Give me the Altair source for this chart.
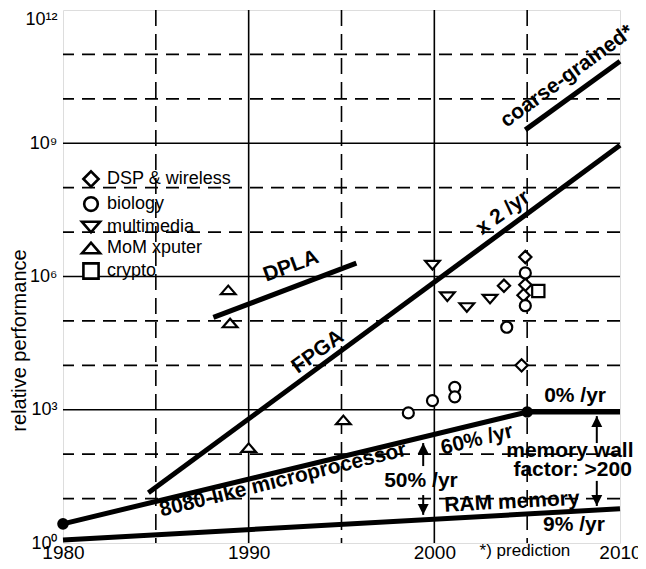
import altair as alt
import pandas as pd

# ---------------- data ----------------
# grid positions
grid_solid_years = [1990, 2000]
grid_dash_years = [1985, 1995, 2005]
grid_solid_vals = [1e3, 1e6, 1e9]
grid_dash_vals = [1e1, 1e2, 1e4, 1e5, 1e7, 1e8, 1e10, 1e11]

x_ticks = [1980, 1990, 2000, 2010]
y_ticks = [1, 1e3, 1e6, 1e9, 1e12]
y_tick_exps = [0, 3, 6, 9, 12]
y_tick_labels = ["10\u2070", "10\u00b3", "10\u2076", "10\u2079", "10\u00b9\u00b2"]

# trend lines
fpga_years = [1984.6, 2010]
fpga_vals = [13.5, 9.0e8]
coarse_years = [2004.9, 2010]
coarse_vals = [2.0e9, 7.0e10]
dpla_years = [1988.1, 1995.8]
dpla_vals = [1.2e5, 2.0e6]
micro_years = [1980, 2005, 2010]
micro_vals = [2.7, 890, 890]
ram_years = [1980, 2010]
ram_vals = [1.17, 5.9]

dot_years = [1980, 2005]
dot_vals = [2.7, 890]

# scatter categories
categories = ["DSP & wireless", "biology", "multimedia", "MoM xputer", "crypto"]
dsp_years = [2004.9, 2003.75, 2004.9, 2004.8, 2004.7]
dsp_vals = [2.75e6, 6.2e5, 6.5e5, 3.8e5, 1.0e4]
bio_years = [2004.9, 2004.9, 2003.9, 1999.9, 2001.1, 2001.1, 1998.6]
bio_vals = [1.2e6, 2.2e5, 7.2e4, 1600, 3200, 1950, 850]
mm_years = [1999.9, 2000.7, 2001.75, 2003.0]
mm_vals = [1.8e6, 3.5e5, 2.0e5, 3.1e5]
mom_years = [1988.9, 1989.0, 1990.0, 1995.1]
mom_vals = [5.0e5, 9.0e4, 140, 590]
crypto_years = [2005.6]
crypto_vals = [4.7e5]

# arrows (shaft start -> tip)
arrow_years = [1999.4, 1999.4, 2008.75, 2008.75]
arrow_from = [54, 12, 178, 25]
arrow_to = [178, 4.3, 720, 6.8]
arrow_dirs = ["up", "down", "up", "down"]

# annotations
ann_labels = ["coarse-grained*", "x 2 /yr", "FPGA", "DPLA",
              "8080-like microprocessor", "60% /yr", "0% /yr", "50% /yr",
              "memory wall", "factor: >200", "RAM memory", "9% /yr"]
ann_years = [2007.15, 2003.7, 1993.73, 1992.28, 1991.85, 2002.3, 2007.58,
             1999.28, 2007.3, 2007.45, 2004.18, 2007.52]
ann_vals = [3.2e10, 2.7e7, 2.0e4, 1.7e6, 26, 209, 2040, 25, 120, 45, 8.3, 2.54]
ann_angles = [324, 324, 324, 340, 346, 346, 0, 0, 0, 0, 357, 0]

note_label = ["*) prediction"]
note_year = [2004.88]
note_val = [0.5]

# ---------------- frames ----------------
lines_df = pd.concat([
    pd.DataFrame({"series": "fpga", "year": fpga_years, "val": fpga_vals}),
    pd.DataFrame({"series": "coarse", "year": coarse_years, "val": coarse_vals}),
    pd.DataFrame({"series": "dpla", "year": dpla_years, "val": dpla_vals}),
    pd.DataFrame({"series": "micro", "year": micro_years, "val": micro_vals}),
    pd.DataFrame({"series": "ram", "year": ram_years, "val": ram_vals}),
])
dots_df = pd.DataFrame({"year": dot_years, "val": dot_vals})
pts_df = pd.concat([
    pd.DataFrame({"cat": categories[0], "year": dsp_years, "val": dsp_vals}),
    pd.DataFrame({"cat": categories[1], "year": bio_years, "val": bio_vals}),
    pd.DataFrame({"cat": categories[2], "year": mm_years, "val": mm_vals}),
    pd.DataFrame({"cat": categories[3], "year": mom_years, "val": mom_vals}),
    pd.DataFrame({"cat": categories[4], "year": crypto_years, "val": crypto_vals}),
])
arrows_df = pd.DataFrame({"year": arrow_years, "val": arrow_from,
                          "val2": arrow_to, "dir": arrow_dirs})
ann_df = pd.DataFrame({"label": ann_labels, "year": ann_years,
                       "val": ann_vals, "angle": ann_angles})
note_df = pd.DataFrame({"label": note_label, "year": note_year, "val": note_val})

# ---------------- scales / axes ----------------
FONT = "Liberation Sans"
xs = alt.Scale(domain=[1980, 2010], nice=False, zero=False)
ys = alt.Scale(type="log", domain=[1, 1e12], nice=False)

label_expr = ""
for e, lab in zip(y_tick_exps, y_tick_labels):
    label_expr += f"round(log(datum.value)/LN10) == {e} ? '{lab}' : "
label_expr += "''"

x_axis = alt.Axis(values=x_ticks, title=None, grid=False, ticks=False,
                  domain=False, labelFontSize=19, labelFont=FONT,
                  labelColor="black", labelPadding=0, labelFlush=False,
                  format="d")
y_axis = alt.Axis(values=y_ticks, title="relative performance", grid=False,
                  ticks=False, domain=False, labelFontSize=18, labelFont=FONT,
                  labelColor="black", labelPadding=6, labelExpr=label_expr,
                  labelBaseline={"condition": {"test": "datum.value > 1e11", "value": "top"},
                                 "value": "middle"},
                  titleFont=FONT, titleFontSize=20, titleFontWeight="normal",
                  titleColor="black", titleX=-44, titleY=330, titleAngle=270,
                  titleAlign="center", titleBaseline="middle")


def X():
    return alt.X("year:Q", scale=xs, axis=x_axis)


def Y():
    return alt.Y("val:Q", scale=ys, axis=y_axis)


# ---------------- layers ----------------
vsolid = alt.Chart(pd.DataFrame({"year": grid_solid_years})).mark_rule(
    color="black", strokeWidth=1.6).encode(x=X())
vdash = alt.Chart(pd.DataFrame({"year": grid_dash_years})).mark_rule(
    color="black", strokeWidth=1.6, strokeDash=[16, 8]).encode(x=X())
hsolid = alt.Chart(pd.DataFrame({"val": grid_solid_vals})).mark_rule(
    color="black", strokeWidth=1.6).encode(y=Y())
hdash = alt.Chart(pd.DataFrame({"val": grid_dash_vals})).mark_rule(
    color="black", strokeWidth=1.6, strokeDash=[13, 8]).encode(y=Y())

lines = alt.Chart(lines_df).mark_line(color="black", strokeWidth=5).encode(
    x=X(), y=Y(), detail="series:N")

dots = alt.Chart(dots_df).mark_circle(color="black", size=135, opacity=1).encode(
    x=X(), y=Y())

shafts = alt.Chart(arrows_df).mark_rule(color="black", strokeWidth=2).encode(
    x=X(), y=Y(), y2="val2:Q")
head_up = alt.Chart(arrows_df).transform_filter("datum.dir == 'up'").mark_point(
    shape="M0,0L-0.5,1L0.5,1Z", size=480, filled=True, color="black",
    opacity=1).encode(x=X(), y=alt.Y("val2:Q", scale=ys, axis=y_axis))
head_down = alt.Chart(arrows_df).transform_filter("datum.dir == 'down'").mark_point(
    shape="M0,0L-0.5,-1L0.5,-1Z", size=480, filled=True, color="black",
    opacity=1).encode(x=X(), y=alt.Y("val2:Q", scale=ys, axis=y_axis))

shape_range = [
    "diamond",
    "M0.9,0A0.9,0.9 0 1,1 -0.9,0A0.9,0.9 0 1,1 0.9,0Z",
    "M-1.2,-0.7L1.2,-0.7L0,0.7Z",
    "M-1.2,0.7L0,-0.7L1.2,0.7Z",
    "square",
]
legend = alt.Legend(title=None, orient="none", legendX=19, legendY=160,
                    padding=0, labelFont=FONT, labelFontSize=18,
                    labelColor="black", labelOffset=7, rowPadding=-1,
                    symbolSize=230, symbolStrokeWidth=2.6)
points = alt.Chart(pts_df).mark_point(
    filled=False, fill="white", strokeWidth=2.2, size=150, opacity=1).encode(
    x=X(), y=Y(),
    shape=alt.Shape("cat:N", scale=alt.Scale(domain=categories, range=shape_range),
                    legend=legend),
    color=alt.Color("cat:N", scale=alt.Scale(domain=categories,
                                             range=["black"] * len(categories)),
                    legend=legend))

ann = alt.Chart(ann_df).mark_text(
    font=FONT, fontSize=21, fontWeight="bold", color="black",
    align="center", baseline="middle").encode(
    x=X(), y=Y(), text="label:N", angle=alt.Angle("angle:Q", scale=None))

note = alt.Chart(note_df).mark_text(
    font=FONT, fontSize=17, color="black", align="center",
    baseline="alphabetic").encode(x=X(), y=Y(), text="label:N")

chart = alt.layer(
    vdash, vsolid, hdash, hsolid, lines, shafts, head_up, head_down,
    dots, points, ann, note
).properties(
    width=557, height=533,
    autosize=alt.AutoSizeParams(type="none"),
    padding={"left": 55, "top": 2, "right": 18, "bottom": 18},
    background="white",
).configure_view(stroke="black", strokeWidth=2.2).configure(font=FONT)

chart.save("out.html", embed_options={"renderer": "svg", "actions": False})
